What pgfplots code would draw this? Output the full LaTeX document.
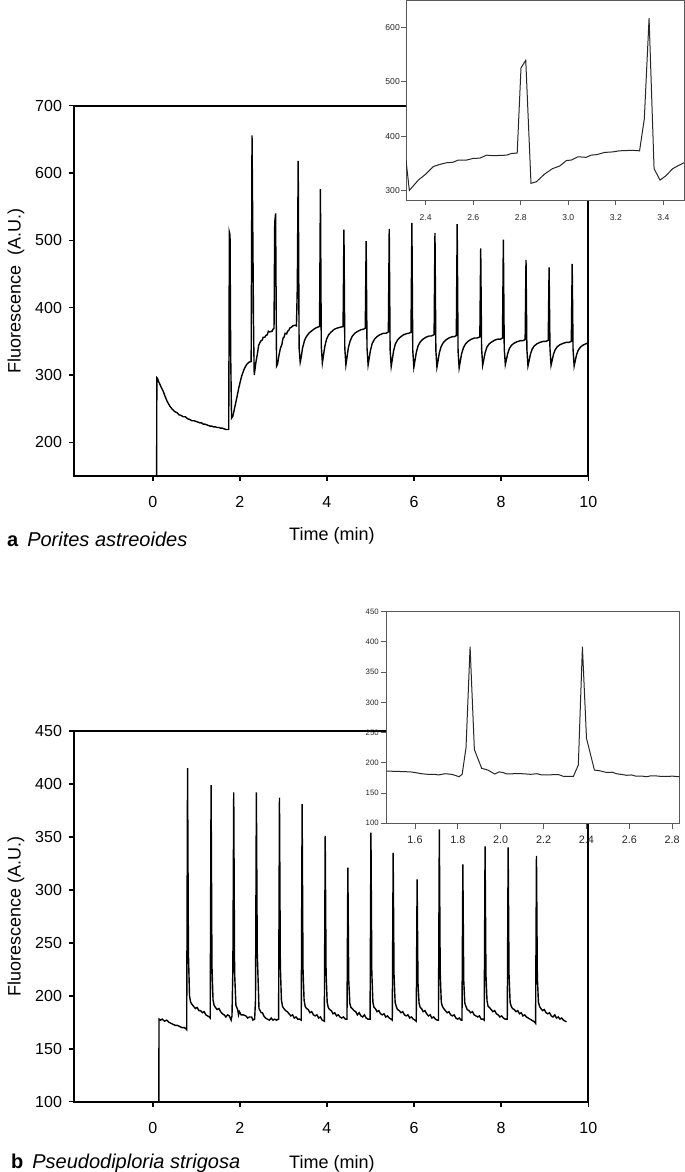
\documentclass[border=0pt]{standalone}
\usepackage{fontspec}
\setmainfont{Liberation Sans}
\usepackage{pgfplots}
\pgfplotsset{compat=1.18}

% 1 px of the reference = 0.5pt
\pgfplotsset{
  mainax/.style={
    scale only axis, width=257.15pt,
    xmin=-1.807, xmax=10, xtick={0,2,...,10},
    clip mode=individual,
    axis line style={line width=1pt},
    tick style={black, line width=0.8pt},
    tick align=outside, tick pos=left, major tick length=2.5pt,
    minor tick num=0,
    ticklabel style={font=\fontsize{8}{8}\selectfont},
    xticklabel style={yshift=-4.2pt},
    /pgf/number format/assume math mode=true,
    label style={font=\fontsize{9}{9}\selectfont},
    ylabel style={at={(axis description cs:-0.1128,0.5)}, anchor=center},
  },
  inset/.style={
    scale only axis,
    axis background/.style={fill=white},
    axis line style={draw=black!65, line width=0.5pt},
    tick style={black!65, line width=0.5pt},
    tick align=outside, tick pos=left,
    /pgf/number format/assume math mode=true,
    /pgf/number format/.cd, fixed, precision=1, fixed zerofill, /pgfplots/.cd,
  },
  yinsetticks/.style={yticklabel style={/pgf/number format/precision=0, /pgf/number format/fixed zerofill=false}},
}

\begin{document}
\begin{tikzpicture}
\path[use as bounding box] (0,0) rectangle (342.5pt,586pt);

% ---------------- panel a ----------------
\begin{axis}[mainax, at={(37pt,348pt)}, anchor=south west,
  height=185.15pt, ymin=150, ymax=700, ytick={200,300,...,700},
  ylabel={Fluorescence~~(A.U.)},
  xlabel={Time (min)},
  xlabel style={at={(axis description cs:0.5014,-0.162)}, anchor=center},
]
\addplot[black, line width=0.7pt] coordinates {
(0.09,150)(0.095,296)(0.11,295)(0.13,291)(0.16,287)(0.20,281)(0.24,276)(0.28,269)
(0.33,261)(0.39,254)(0.45,249)(0.52,245)(0.56,244)(0.60,241)(0.65,240)(0.70,238)
(0.75,238)(0.80,235)(0.85,234)(0.90,232)(0.95,232)(1.00,231)(1.04,230)(1.08,229)
(1.12,229)(1.16,227)(1.20,227)(1.24,226)(1.28,225)(1.32,224)(1.36,224)(1.40,223)
(1.44,223)(1.48,222)(1.52,222)(1.56,221)(1.60,221)(1.64,220)(1.68,219)(1.72,219)
(1.745,219)(1.76,512)(1.775,508)(1.79,330)(1.81,236)(1.84,239)(1.88,251)(1.93,266)
(1.98,282)(2.04,298)(2.10,309)(2.16,316)(2.21,319)(2.26,320)(2.28,656)(2.317,356)
(2.331,300)(2.369,319)(2.40,330)(2.432,344)(2.46,348)(2.488,351)(2.516,352)(2.537,356)
(2.572,356)(2.60,359)(2.628,359.5)(2.656,365)(2.684,364)(2.74,365)(2.76,368)(2.785,369)
(2.801,526)(2.821,540)(2.843,313)(2.866,316)(2.90,330)(2.933,340)(2.964,345)(2.992,355)
(3.013,356)(3.04,362)(3.075,361)(3.096,365)(3.12,366)(3.152,370)(3.187,371)(3.215,373)
(3.271,374)(3.30,373)(3.32,432)(3.34,618)(3.361,340)(3.386,319)(3.411,327)(3.439,340)
(3.46,345)(3.484,351)(3.51,355)(3.55,359)(3.60,363)(3.66,366)(3.72,369)(3.78,371)(3.83,372)
(3.85,576)(3.87,343)(3.895,318)(3.92,329)(3.95,342)(3.99,353)(4.04,360)(4.10,364)
(4.17,368)(4.25,370)(4.31,371)(4.37,372)
(4.39,516)(4.41,340)(4.435,315)(4.46,326)(4.49,340)(4.53,350)(4.58,357.5)(4.64,362)
(4.71,365)(4.79,367.5)(4.84,368)(4.88,369.5)
(4.90,499)(4.92,340)(4.945,315)(4.97,325)(5.00,337)(5.04,347)(5.09,353)(5.15,357)
(5.22,360)(5.30,362)(5.36,362)(5.41,364)
(5.43,517)(5.45,338)(5.475,312.6)(5.50,323)(5.53,336)(5.57,346)(5.62,352)(5.68,356)
(5.75,359.5)(5.83,361.5)(5.88,362)(5.93,363.5)
(5.95,526)(5.97,337)(5.995,311.6)(6.02,321)(6.05,333)(6.09,343)(6.14,349)(6.20,353)
(6.27,356)(6.35,358)(6.40,358)(6.46,360)
(6.48,511)(6.50,337)(6.525,311.6)(6.55,321)(6.58,333)(6.62,342)(6.67,348)(6.73,352)
(6.80,355)(6.88,357)(6.93,357)(6.97,358.6)
(6.99,524)(7.01,336)(7.035,310.6)(7.06,320)(7.09,331)(7.13,340)(7.18,346)(7.24,350)
(7.31,353)(7.39,355)(7.45,355)(7.51,356.6)
(7.53,488)(7.55,340)(7.575,314.5)(7.60,322.6)(7.63,332.7)(7.67,341)(7.72,346)(7.78,349)
(7.85,351.8)(7.93,353.4)(7.98,353)(8.03,355)
(8.05,501)(8.07,340)(8.095,315.5)(8.12,323)(8.15,332)(8.19,339.6)(8.24,344.4)(8.30,347.4)
(8.37,349.6)(8.45,351)(8.50,351)(8.55,352.6)
(8.57,471)(8.59,338)(8.615,313.5)(8.64,321)(8.67,330.6)(8.71,338.3)(8.76,343.2)(8.82,346.3)
(8.89,348.5)(8.97,350)(9.03,350)(9.08,351.6)
(9.10,460)(9.12,339)(9.145,314.5)(9.17,321.6)(9.20,330.5)(9.24,337.6)(9.29,342.2)(9.35,345)
(9.42,347)(9.50,348.6)(9.56,348.5)(9.61,350)
(9.63,465)(9.65,338)(9.675,313.5)(9.70,321)(9.73,330)(9.77,337)(9.82,341.5)(9.88,344.5)
(9.95,346.5)(10.0,348)
};
\node[anchor=west, font=\fontsize{10}{10}\selectfont] at (axis description cs:-0.144,-0.171)
  {\textbf{a}\hspace{0.45em}\textit{Porites astreoides}};
\end{axis}

\begin{axis}[inset, at={(203pt,485.65pt)}, anchor=south west,
  width=139pt, height=100pt,
  xmin=2.317, xmax=3.487, ymin=281, ymax=650,
  xtick={2.4,2.6,...,3.41}, ytick={300,400,500,600},
  major tick length=2.3pt,
  yinsetticks,
  ticklabel style={font=\fontsize{4.3}{4.3}\selectfont, black!85},
  yticklabel style={inner sep=0.6pt},
  xticklabel style={yshift=-1.2pt},
]
\addplot[black!85, line width=0.5pt] coordinates {
(2.317,356)(2.331,300)(2.369,319)(2.40,330)(2.432,344)(2.46,348)(2.488,351)(2.516,352)
(2.537,356)(2.572,356)(2.60,359)(2.628,359.5)(2.656,365)(2.684,364)(2.74,365)(2.76,368)
(2.785,369)(2.801,526)(2.821,540)(2.843,313)(2.866,316)(2.90,330)(2.933,340)(2.964,345)
(2.992,355)(3.013,356)(3.04,362)(3.075,361)(3.096,365)(3.12,366)(3.152,370)(3.187,371)
(3.215,373)(3.271,374)(3.30,373)(3.32,432)(3.34,618)(3.361,340)(3.386,319)(3.411,327)
(3.439,340)(3.46,345)(3.487,351)
};
\end{axis}

% ---------------- panel b ----------------
\begin{axis}[mainax, at={(37pt,35.15pt)}, anchor=south west,
  height=185.35pt, ymin=100, ymax=450, ytick={100,150,...,450},
  ylabel={Fluorescence (A.U.)},
  xlabel={Time (min)},
  xlabel style={at={(axis description cs:0.5014,-0.168)}, anchor=center},
]
\addplot[black, line width=0.7pt] coordinates {
(0.14,100)(0.145,178)(0.18,177)(0.22,178)(0.27,176)(0.32,177)(0.37,175)(0.42,174)
(0.47,173)(0.52,172)(0.57,172)(0.62,171)(0.67,170)(0.72,170)(0.76,169)(0.78,168)
(0.80,415)(0.82,240)(0.845,200)(0.87,194)(0.90,192)(0.94,190)(0.98,188)(1.02,189)
(1.06,186)(1.10,186)(1.14,184)(1.18,185)(1.22,182)(1.26,181)(1.30,180)(1.32,179)
(1.34,399)(1.36,228)(1.385,196)(1.41,191)(1.44,189)(1.48,187)(1.52,188)(1.56,185)
(1.60,183)(1.64,182)(1.68,180)(1.72,182)(1.76,181)(1.80,177)(1.82,181)(1.84,225)
(1.86,392)(1.88,222)(1.91,191)(1.95,187)(1.97,182)(1.99,185)(2.03,182)(2.08,182)
(2.14,181)(2.18,179)(2.22,180)(2.27,180)(2.30,177)(2.34,178)(2.36,196)
(2.38,392)(2.40,241)(2.44,188)(2.49,184)(2.52,184)(2.55,181)(2.59,179)(2.63,178)
(2.68,177)(2.72,179)(2.76,177)(2.80,178)(2.84,177)(2.89,178)
(2.91,387)(2.93,228)(2.955,196)(2.98,190)(3.01,188)(3.05,186)(3.09,185)(3.13,183)
(3.17,181)(3.21,182)(3.25,179)(3.29,180)(3.33,178)(3.37,178)(3.41,177)
(3.43,381)(3.45,226)(3.475,196)(3.50,190)(3.53,188)(3.57,187)(3.61,184)(3.65,185)
(3.69,182)(3.73,181)(3.77,182)(3.81,179)(3.85,180)(3.89,177)(3.94,176)
(3.96,351)(3.98,222)(4.005,194)(4.03,189)(4.06,187)(4.10,186)(4.14,183)(4.18,184)
(4.22,181)(4.26,182)(4.30,180)(4.34,179)(4.38,180)(4.42,178)(4.46,178)
(4.48,321)(4.50,215)(4.525,193)(4.55,189)(4.58,188)(4.62,186)(4.66,185)(4.70,182)
(4.74,184)(4.78,181)(4.82,180)(4.86,182)(4.90,179)(4.94,178)(4.99,178)
(5.01,354)(5.03,222)(5.055,194)(5.08,189)(5.11,188)(5.15,185)(5.19,186)(5.23,183)
(5.27,182)(5.31,183)(5.35,180)(5.39,181)(5.43,179)(5.47,178)(5.50,177)
(5.52,335)(5.54,220)(5.565,194)(5.59,190)(5.62,187)(5.66,186)(5.70,184)(5.74,185)
(5.78,182)(5.82,181)(5.86,182)(5.90,179)(5.94,180)(5.98,178)(6.02,177)(6.05,176)
(6.07,310)(6.09,212)(6.115,193)(6.14,189)(6.17,188)(6.21,185)(6.25,186)(6.29,183)
(6.33,181)(6.37,182)(6.41,179)(6.45,180)(6.49,178)(6.53,177)(6.56,177)
(6.58,357)(6.60,222)(6.625,194)(6.65,190)(6.68,188)(6.72,186)(6.76,184)(6.80,185)
(6.84,182)(6.88,181)(6.92,182)(6.96,179)(7.00,178)(7.04,179)(7.08,177)(7.10,177)
(7.12,324)(7.14,215)(7.165,193)(7.19,190)(7.22,187)(7.26,186)(7.30,184)(7.34,185)
(7.38,182)(7.42,181)(7.46,180)(7.50,181)(7.54,178)(7.58,178)(7.61,177)
(7.63,341)(7.65,220)(7.675,195)(7.70,190)(7.73,189)(7.77,187)(7.81,185)(7.85,186)
(7.89,183)(7.93,182)(7.97,180)(8.01,181)(8.05,179)(8.09,178)(8.14,178)
(8.16,340)(8.18,220)(8.205,194)(8.23,190)(8.26,188)(8.30,187)(8.34,185)(8.38,186)
(8.42,183)(8.46,184)(8.50,181)(8.54,182)(8.58,180)(8.62,179)(8.66,178)(8.70,177)
(8.74,176)(8.77,175)(8.79,174)
(8.81,332)(8.83,218)(8.855,194)(8.88,190)(8.91,188)(8.95,186)(8.99,187)(9.03,184)
(9.07,183)(9.11,184)(9.15,181)(9.19,180)(9.23,182)(9.27,179)(9.31,180)(9.35,178)
(9.39,179)(9.43,177)(9.47,176)(9.50,175.5)
};
\node[anchor=west, font=\fontsize{10}{10}\selectfont] at (axis description cs:-0.136,-0.165)
  {\textbf{b}\hspace{0.45em}\textit{Pseudodiploria strigosa}};
\end{axis}

\begin{axis}[inset, at={(193.35pt,174.35pt)}, anchor=south west,
  width=146.3pt, height=105.8pt,
  xmin=1.468, xmax=2.833, ymin=100, ymax=450,
  xtick={1.6,1.8,...,2.81}, ytick={100,150,...,450},
  major tick length=3pt,
  yinsetticks,
  xticklabel style={font=\fontsize{5.4}{5.4}\selectfont, black!85},
  yticklabel style={font=\fontsize{3.9}{3.9}\selectfont, black!85, inner sep=0.8pt},
]
\addplot[black!85, line width=0.5pt] coordinates {
(1.468,186.5)(1.50,186)(1.546,185.5)(1.58,185)(1.60,184)(1.63,182)(1.66,181)(1.69,181)
(1.71,180)(1.74,182)(1.77,181)(1.79,179)(1.805,177)(1.82,181)(1.838,225)(1.857,392)
(1.877,222)(1.911,191)(1.94,188)(1.972,181.6)(1.993,185)(2.01,184)(2.028,181.6)(2.06,182)
(2.10,182)(2.14,181)(2.17,182)(2.19,180)(2.22,180)(2.25,180.5)(2.27,180.5)(2.292,177.7)
(2.339,177.7)(2.362,196.5)(2.381,392)(2.40,240.6)(2.437,188)(2.46,187)(2.494,184)
(2.52,184.5)(2.54,182)(2.56,181)(2.588,179.4)(2.61,180)(2.63,178)(2.66,178)(2.68,177)
(2.70,178.5)(2.72,178.5)(2.75,177.5)(2.78,177.5)(2.80,178)(2.833,177)
};
\end{axis}
\end{tikzpicture}
\end{document}
